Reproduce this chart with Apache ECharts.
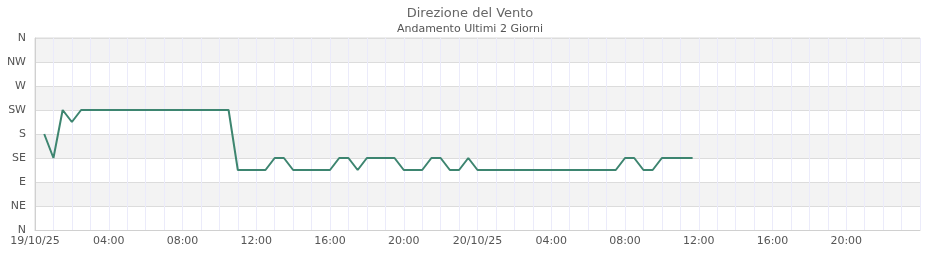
<!DOCTYPE html>
<html>
<head>
<meta charset="utf-8">
<script src="https://cdn.jsdelivr.net/npm/echarts@6/dist/echarts.min.js"></script>
<style>html,body{margin:0;padding:0;background:#fff;}#c{width:940px;height:260px;}</style>
</head>
<body>
<div id="c"></div>
<script>
const titleText = 'Direzione del Vento';
const subtitleText = 'Andamento Ultimi 2 Giorni';
const dirLabels = ['N', 'NE', 'E', 'SE', 'S', 'SW', 'W', 'NW', 'N'];
const times = [
  '2025-10-19 00:30','2025-10-19 01:00','2025-10-19 01:30','2025-10-19 02:00','2025-10-19 02:30',
  '2025-10-19 03:00','2025-10-19 03:30','2025-10-19 04:00','2025-10-19 04:30','2025-10-19 05:00',
  '2025-10-19 05:30','2025-10-19 06:00','2025-10-19 06:30','2025-10-19 07:00','2025-10-19 07:30',
  '2025-10-19 08:00','2025-10-19 08:30','2025-10-19 09:00','2025-10-19 09:30','2025-10-19 10:00',
  '2025-10-19 10:30','2025-10-19 11:00','2025-10-19 11:30','2025-10-19 12:00','2025-10-19 12:30',
  '2025-10-19 13:00','2025-10-19 13:30','2025-10-19 14:00','2025-10-19 14:30','2025-10-19 15:00',
  '2025-10-19 15:30','2025-10-19 16:00','2025-10-19 16:30','2025-10-19 17:00','2025-10-19 17:30',
  '2025-10-19 18:00','2025-10-19 18:30','2025-10-19 19:00','2025-10-19 19:30','2025-10-19 20:00',
  '2025-10-19 20:30','2025-10-19 21:00','2025-10-19 21:30','2025-10-19 22:00','2025-10-19 22:30',
  '2025-10-19 23:00','2025-10-19 23:30','2025-10-20 00:00','2025-10-20 00:30','2025-10-20 01:00',
  '2025-10-20 01:30','2025-10-20 02:00','2025-10-20 02:30','2025-10-20 03:00','2025-10-20 03:30',
  '2025-10-20 04:00','2025-10-20 04:30','2025-10-20 05:00','2025-10-20 05:30','2025-10-20 06:00',
  '2025-10-20 06:30','2025-10-20 07:00','2025-10-20 07:30','2025-10-20 08:00','2025-10-20 08:30',
  '2025-10-20 09:00','2025-10-20 09:30','2025-10-20 10:00','2025-10-20 10:30','2025-10-20 11:00',
  '2025-10-20 11:40'
];
const directions = [
  180, 135, 225, 202.5, 225,
  225, 225, 225, 225, 225,
  225, 225, 225, 225, 225,
  225, 225, 225, 225, 225,
  225, 112.5, 112.5, 112.5, 112.5,
  135, 135, 112.5, 112.5, 112.5,
  112.5, 112.5, 135, 135, 112.5,
  135, 135, 135, 135, 112.5,
  112.5, 112.5, 135, 135, 112.5,
  112.5, 135, 112.5, 112.5, 112.5,
  112.5, 112.5, 112.5, 112.5, 112.5,
  112.5, 112.5, 112.5, 112.5, 112.5,
  112.5, 112.5, 112.5, 135, 135,
  112.5, 112.5, 135, 135, 135,
  135
];
const xStart = '2025-10-19 00:00';
const xEnd = '2025-10-21 00:00';

function parseT(s) {
  const [d, t] = s.split(' ');
  const [Y, M, D] = d.split('-').map(Number);
  const [h, m] = t.split(':').map(Number);
  return new Date(Y, M - 1, D, h, m).getTime();
}
const pad = n => String(n).padStart(2, '0');
const seriesData = times.map((t, i) => [parseT(t), directions[i]]);

const chart = echarts.init(document.getElementById('c'), null, {renderer: 'canvas'});
const font = 'DejaVu Sans';
chart.setOption({
  animation: false,
  backgroundColor: '#ffffff',
  title: {
    text: titleText,
    subtext: subtitleText,
    left: 'center',
    top: 2,
    itemGap: 4,
    textStyle: {fontFamily: font, fontSize: 13, fontWeight: 'normal', color: '#666'},
    subtextStyle: {fontFamily: font, fontSize: 11, color: '#555'}
  },
  grid: {left: 35, right: 20, top: 38, bottom: 30, show: true, borderColor: '#dadada', borderWidth: 1, backgroundColor: 'transparent'},
  xAxis: {
    type: 'time',
    min: parseT(xStart),
    max: parseT(xEnd),
    interval: 4 * 3600 * 1000,
    splitNumber: 12,
    axisLine: {show: true, lineStyle: {color: '#d0d0d0'}},
    axisTick: {show: false},
    axisLabel: {
      fontFamily: font, fontSize: 11, color: '#555', margin: 6,
      showMinLabel: true, showMaxLabel: false, hideOverlap: false,
      formatter: function (v) {
        const d = new Date(v);
        if (d.getHours() === 0 && d.getMinutes() === 0) {
          return pad(d.getDate()) + '/' + pad(d.getMonth() + 1) + '/' + String(d.getFullYear()).slice(2);
        }
        return pad(d.getHours()) + ':' + pad(d.getMinutes());
      }
    },
    splitLine: {show: true, lineStyle: {color: '#ebebfa', width: 1}},
    minorTick: {show: false, splitNumber: 4},
    minorSplitLine: {show: true, lineStyle: {color: '#ebebfa', width: 1}}
  },
  yAxis: {
    type: 'value',
    min: 0,
    max: 360,
    interval: 45,
    axisLine: {show: true, lineStyle: {color: '#d0d0d0'}},
    axisTick: {show: false},
    axisLabel: {
      fontFamily: font, fontSize: 11, color: '#555', margin: 9,
      formatter: function (v) { return dirLabels[Math.round(v / 45)]; }
    },
    splitLine: {show: true, lineStyle: {color: '#dcdcdc', width: 1}},
    splitArea: {show: true, areaStyle: {color: ['#ffffff', '#f3f3f3']}}
  },
  series: [{
    type: 'line',
    data: seriesData,
    showSymbol: false,
    symbol: 'none',
    lineStyle: {color: '#3d8570', width: 2},
    itemStyle: {color: '#3d8570'}
  }]
});
</script>
</body>
</html>
